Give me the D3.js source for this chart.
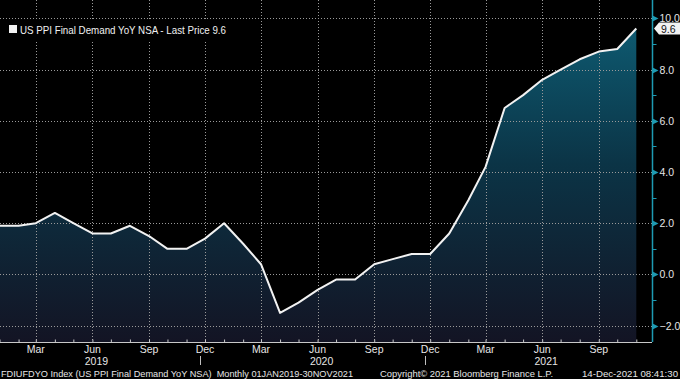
<!DOCTYPE html>
<html>
<head>
<meta charset="utf-8">
<script src="https://cdnjs.cloudflare.com/ajax/libs/d3/7.8.5/d3.min.js"></script>
<style>
  html, body { margin: 0; padding: 0; background: #000; }
  svg { display: block; }
  text { font-family: "Liberation Sans", "DejaVu Sans", sans-serif; }
</style>
</head>
<body>
<div id="chart"></div>
<script>
// monthly, Jan 2019 .. Nov 2021
var ppiValues = [
  1.9, 1.9, 2.0, 2.4, 2.0, 1.6, 1.6, 1.9, 1.5, 1.0, 1.0, 1.4,
  2.0, 1.2, 0.4, -1.5, -1.1, -0.6, -0.2, -0.2, 0.4, 0.6, 0.8, 0.8,
  1.6, 2.9, 4.2, 6.5, 7.0, 7.6, 8.0, 8.4, 8.7, 8.8, 9.6
];
var yTicks = [-2, 0, 2, 4, 6, 8, 10];
var yMinorTicks = [-1, 1, 3, 5, 7, 9];
var monthNames = ['Jan','Feb','Mar','Apr','May','Jun','Jul','Aug','Sep','Oct','Nov','Dec'];
var yearLabels = ['2019', '2020', '2021'];
var legendText = 'US PPI Final Demand YoY NSA - Last Price 9.6';
var footerLeft = 'FDIUFDYO Index (US PPI Final Demand YoY NSA)  Monthly 01JAN2019-30NOV2021';
var footerMid = 'Copyright\u00A9 2021 Bloomberg Finance L.P.';
var footerRight = '14-Dec-2021 08:41:30';

var width = 680, height = 379;
var plotRight = 652, plotBottom = 342;
var teal = '#1e9bb3';
var gridColor = '#9a9a9a';

var data = ppiValues.map(function(v, i) {
  return { date: new Date(2019, i, 1), value: v };
});

var x = d3.scaleTime()
  .domain([new Date(2019, 0, 1), new Date(2021, 10, 1)])
  .range([-0.5, 636.3]);

var y = d3.scaleLinear()
  .domain([-2, 10])
  .range([325.7, 18.3]);

var svg = d3.select('#chart').append('svg')
  .attr('width', width)
  .attr('height', height);

svg.append('rect').attr('width', width).attr('height', height).attr('fill', '#000');

var defs = svg.append('defs');
var grad = defs.append('linearGradient')
  .attr('id', 'areaGrad')
  .attr('gradientUnits', 'userSpaceOnUse')
  .attr('x1', 0).attr('x2', 0)
  .attr('y1', y(10)).attr('y2', plotBottom);
grad.append('stop').attr('offset', '0%').attr('stop-color', '#0e5c73');
grad.append('stop').attr('offset', '45%').attr('stop-color', '#0b3446');
grad.append('stop').attr('offset', '100%').attr('stop-color', '#131424');

// area
var area = d3.area()
  .x(function(d) { return x(d.date); })
  .y0(plotBottom)
  .y1(function(d) { return y(d.value); });

svg.append('path')
  .datum(data)
  .attr('d', area)
  .attr('fill', 'url(#areaGrad)');

// grid: dotted lines built from 1px dots every 3px
var months = d3.timeMonth.range(new Date(2019, 0, 1), new Date(2021, 11, 1));
var quarterMonths = months.filter(function(d) { return d.getMonth() % 3 === 2; });

var grid = svg.append('g').attr('fill', gridColor);

yTicks.forEach(function(t) {
  var gy0 = Math.round(y(t));
  grid.append('g').selectAll('rect')
    .data(d3.range(0, plotRight, 3))
    .join('rect')
    .attr('x', function(d) { return d; })
    .attr('y', gy0)
    .attr('width', 1)
    .attr('height', 1);
});

quarterMonths.forEach(function(m) {
  var gx0 = Math.round(x(m));
  grid.append('g').selectAll('rect')
    .data(d3.range(0, plotBottom, 3))
    .join('rect')
    .attr('x', gx0)
    .attr('y', function(d) { return d; })
    .attr('width', 1)
    .attr('height', 1);
});

// line
var line = d3.line()
  .x(function(d) { return x(d.date); })
  .y(function(d) { return y(d.value); });

svg.append('path')
  .datum(data)
  .attr('d', line)
  .attr('fill', 'none')
  .attr('stroke', '#f2f2f2')
  .attr('stroke-width', 2)
  .attr('stroke-linejoin', 'round');

// x axis (month ticks point up into the plot)
var xAxis = d3.axisBottom(x)
  .tickValues(months)
  .tickSize(-3)
  .tickFormat(function() { return ''; });

var gx = svg.append('g')
  .attr('transform', 'translate(0,' + (plotBottom + 0.5) + ')')
  .call(xAxis);
gx.select('.domain').attr('stroke', '#c8c8c8').attr('d', 'M0,0H' + plotRight);
gx.selectAll('.tick line').attr('stroke', '#c8c8c8');

svg.append('g').selectAll('text')
  .data(quarterMonths)
  .join('text')
  .attr('x', function(d) { return x(d); })
  .attr('y', 353)
  .attr('text-anchor', 'middle')
  .attr('fill', '#e6e6e6')
  .attr('font-size', 10.5)
  .text(function(d) { return monthNames[d.getMonth()]; });

// year labels centred on June, separator under December
svg.append('g').selectAll('text')
  .data(yearLabels)
  .join('text')
  .attr('x', function(d) { return x(new Date(+d, 5, 1)) + 4; })
  .attr('y', 365)
  .attr('text-anchor', 'middle')
  .attr('fill', '#e6e6e6')
  .attr('font-size', 10.5)
  .text(function(d) { return d; });

svg.append('g').selectAll('line')
  .data([new Date(2019, 11, 1), new Date(2020, 11, 1)])
  .join('line')
  .attr('x1', function(d) { return Math.round(x(d)) - 4.5; })
  .attr('x2', function(d) { return Math.round(x(d)) - 4.5; })
  .attr('y1', 356).attr('y2', 365)
  .attr('stroke', '#bfbfbf');

// right axis
var gy = svg.append('g').attr('transform', 'translate(' + (plotRight + 0.5) + ',0)');
gy.append('line')
  .attr('x1', 0).attr('x2', 0)
  .attr('y1', 0).attr('y2', plotBottom)
  .attr('stroke', teal)
  .attr('stroke-width', 1.5);

gy.selectAll('.minor')
  .data(yMinorTicks)
  .join('line')
  .attr('class', 'minor')
  .attr('x1', 0).attr('x2', 4)
  .attr('y1', function(d) { return Math.round(y(d)) + 0.5; })
  .attr('y2', function(d) { return Math.round(y(d)) + 0.5; })
  .attr('stroke', teal);

gy.selectAll('.major')
  .data(yTicks)
  .join('path')
  .attr('class', 'major')
  .attr('d', function(d) {
    var yy = Math.round(y(d)) + 0.5;
    return 'M0,' + (yy - 3) + 'L6,' + yy + 'L0,' + (yy + 3) + 'Z';
  })
  .attr('fill', teal);

gy.selectAll('.tlabel')
  .data(yTicks)
  .join('text')
  .attr('class', 'tlabel')
  .attr('x', 7)
  .attr('y', function(d) { return y(d) + 4; })
  .attr('fill', '#e6e6e6')
  .attr('font-size', 10.5)
  .text(function(d) { return d3.format('.1f')(d); });

// last value marker
var lastVal = ppiValues[ppiValues.length - 1];
var ly = y(lastVal);
var marker = svg.append('g').attr('transform', 'translate(654,' + ly + ')');
marker.append('path')
  .attr('d', 'M0,0L5,-6H26V6H5Z')
  .attr('fill', '#f2f2f2');
marker.append('text')
  .attr('x', 7)
  .attr('y', 4)
  .attr('fill', '#111')
  .attr('font-size', 10.5)
  .text(d3.format('.1f')(lastVal));

// legend
var legend = svg.append('g');
legend.append('rect')
  .attr('x', 3).attr('y', 19).attr('width', 229).attr('height', 21)
  .attr('fill', '#000');
legend.append('rect')
  .attr('x', 9).attr('y', 25).attr('width', 8).attr('height', 8)
  .attr('fill', '#f2f2f2');
legend.append('text')
  .attr('x', 20).attr('y', 33.5)
  .attr('fill', '#f0f0f0')
  .attr('font-size', 11)
  .attr('textLength', 206)
  .attr('lengthAdjust', 'spacingAndGlyphs')
  .text(legendText);

// footer
var footer = svg.append('g').attr('fill', '#e6e6e6').attr('font-size', 9.5);
footer.append('text').attr('x', 1).attr('y', 376.5)
  .attr('xml:space', 'preserve')
  .attr('textLength', 352).attr('lengthAdjust', 'spacingAndGlyphs')
  .text(footerLeft);
footer.append('text').attr('x', 380).attr('y', 376.5)
  .attr('textLength', 173).attr('lengthAdjust', 'spacingAndGlyphs')
  .text(footerMid);
footer.append('text').attr('x', 582).attr('y', 376.5)
  .attr('textLength', 96).attr('lengthAdjust', 'spacingAndGlyphs')
  .text(footerRight);
</script>
</body>
</html>
